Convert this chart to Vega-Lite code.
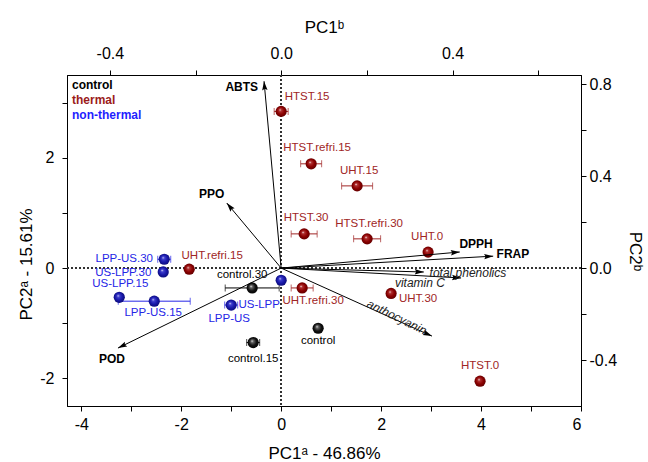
{
  "$schema": "https://vega.github.io/schema/vega-lite/v6.json",
  "width": 514,
  "height": 331,
  "autosize": "none",
  "padding": {"left": 67, "top": 75, "right": 67, "bottom": 56},
  "background": "white",
  "config": {
    "font": "Liberation Sans",
    "view": {"stroke": "black", "strokeWidth": 1},
    "axis": {"grid": false, "domainColor": "black", "tickColor": "black", "labelColor": "black", "titleColor": "black", "labelFontSize": 16, "titleFontSize": 17, "titleFontWeight": "normal", "tickSize": 5, "labelPadding": 3, "labelFont": "Liberation Sans", "titleFont": "Liberation Sans"}
  },
  "datasets": {
    "scores": [
      {"name": "HTST.15", "group": "thermal", "x": 0.0, "y": 2.84, "xerr": 0.14, "lx": 0.52, "ly": 3.11},
      {"name": "HTST.refri.15", "group": "thermal", "x": 0.60, "y": 1.89, "xerr": 0.21, "lx": 0.72, "ly": 2.18},
      {"name": "UHT.15", "group": "thermal", "x": 1.52, "y": 1.49, "xerr": 0.31, "lx": 1.56, "ly": 1.76},
      {"name": "HTST.30", "group": "thermal", "x": 0.46, "y": 0.62, "xerr": 0.26, "lx": 0.50, "ly": 0.91},
      {"name": "HTST.refri.30", "group": "thermal", "x": 1.72, "y": 0.53, "xerr": 0.27, "lx": 1.76, "ly": 0.80},
      {"name": "UHT.0", "group": "thermal", "x": 2.94, "y": 0.29, "xerr": 0, "lx": 2.92, "ly": 0.56},
      {"name": "UHT.refri.30", "group": "thermal", "x": 0.42, "y": -0.36, "xerr": 0.22, "lx": 0.64, "ly": -0.60},
      {"name": "UHT.30", "group": "thermal", "x": 2.20, "y": -0.46, "xerr": 0, "lx": 2.74, "ly": -0.56},
      {"name": "HTST.0", "group": "thermal", "x": 3.98, "y": -2.05, "xerr": 0, "lx": 3.98, "ly": -1.78},
      {"name": "UHT.refri.15", "group": "thermal", "x": -1.84, "y": -0.02, "xerr": 0, "lx": -1.38, "ly": 0.22},
      {"name": "control", "group": "control", "x": 0.74, "y": -1.09, "xerr": 0, "lx": 0.74, "ly": -1.33},
      {"name": "control.30", "group": "control", "x": -0.58, "y": -0.36, "xerr": 0.54, "lx": -0.78, "ly": -0.13},
      {"name": "control.15", "group": "control", "x": -0.56, "y": -1.35, "xerr": 0.13, "lx": -0.56, "ly": -1.64},
      {"name": "LPP-US.30", "group": "non-thermal", "x": -2.34, "y": 0.16, "xerr": 0.13, "lx": -3.14, "ly": 0.16},
      {"name": "US-LPP.30", "group": "non-thermal", "x": -2.36, "y": -0.07, "xerr": 0, "lx": -3.16, "ly": -0.09},
      {"name": "US-LPP.15", "group": "non-thermal", "x": -3.24, "y": -0.53, "xerr": 0, "lx": -3.22, "ly": -0.29},
      {"name": "LPP-US.15", "group": "non-thermal", "x": -2.54, "y": -0.60, "xerr": 0.72, "lx": -2.56, "ly": -0.82},
      {"name": "LPP-US", "group": "non-thermal", "x": -1.00, "y": -0.67, "xerr": 0.13, "lx": -1.04, "ly": -0.93},
      {"name": "US-LPP", "group": "non-thermal", "x": 0.0, "y": -0.22, "xerr": 0, "lx": -0.44, "ly": -0.67}
    ],
    "loadings": [
      {"var": "ABTS", "kind": "assay", "lx": -0.040, "ly": 0.813, "tx": -0.092, "ty": 0.787},
      {"var": "PPO", "kind": "assay", "lx": -0.127, "ly": 0.283, "tx": -0.162, "ty": 0.322},
      {"var": "POD", "kind": "assay", "lx": -0.381, "ly": -0.348, "tx": -0.395, "ty": -0.396},
      {"var": "DPPH", "kind": "assay", "lx": 0.417, "ly": 0.070, "tx": 0.455, "ty": 0.104},
      {"var": "FRAP", "kind": "assay", "lx": 0.495, "ly": 0.052, "tx": 0.541, "ty": 0.061},
      {"var": "total phenolics", "kind": "compound", "lx": 0.333, "ly": -0.017, "tx": 0.436, "ty": -0.022},
      {"var": "vitamin C", "kind": "compound", "lx": 0.420, "ly": -0.043, "tx": 0.324, "ty": -0.065},
      {"var": "anthocyanin", "kind": "compound", "lx": 0.352, "ly": -0.296, "tx": 0.270, "ty": -0.213}
    ]
  },
  "layer": [
    {
      "data": {"name": "scores"},
      "layer": [
        {
          "mark": {"type": "rule", "strokeDash": [2, 2], "color": "#333333", "strokeWidth": 1},
          "encoding": {
            "x": {"datum": 0, "type": "quantitative", "scale": {"domain": [-4.2857, 6], "nice": false, "zero": false},
              "axis": {"orient": "bottom", "values": [-4, -3, -2, -1, 0, 1, 2, 3, 4, 5, 6], "labelExpr": "datum.value % 2 == 0 ? replace(format(datum.value, 'd'), '\u2212', '-') : ''", "title": "PC1\u1d43 - 46.86%", "titlePadding": 13, "labelPadding": 5}}
          }
        },
        {
          "mark": {"type": "rule", "strokeDash": [2, 2], "color": "#333333", "strokeWidth": 1},
          "encoding": {
            "y": {"datum": 0, "type": "quantitative", "scale": {"domain": [-2.5, 3.5], "nice": false, "zero": false},
              "axis": {"orient": "left", "values": [-2, -1, 0, 1, 2, 3], "labelExpr": "datum.value % 2 == 0 ? replace(format(datum.value, 'd'), '\u2212', '-') : ''", "title": "PC2\u1d43 - 15.61%", "titlePadding": 4, "titleY": 189, "labelPadding": 8}}
          }
        },
        {
          "transform": [{"filter": "datum.xerr > 0"}],
          "mark": {"type": "errorbar", "ticks": {"size": 7}, "thickness": 1},
          "encoding": {
            "x": {"field": "x", "type": "quantitative", "title": "PC1\u1d43 - 46.86%"},
            "xError": {"field": "xerr"},
            "y": {"field": "y", "type": "quantitative", "title": "PC2\u1d43 - 15.61%"},
            "color": {"field": "group", "type": "nominal", "scale": {"domain": ["control", "thermal", "non-thermal"], "range": ["#000000", "#a02525", "#2525e6"]}}
          }
        },
        {
          "transform": [{"filter": "datum.group === 'control'"}],
          "mark": {"type": "point", "filled": true, "size": 125, "opacity": 1, "fill": {"gradient": "radial", "x1": 0.4, "y1": 0.35, "r1": 0, "x2": 0.5, "y2": 0.5, "r2": 0.55, "stops": [{"offset": 0, "color": "#ffffff"}, {"offset": 0.2, "color": "#666666"}, {"offset": 0.6, "color": "#111111"}, {"offset": 1, "color": "#000000"}]}},
          "encoding": {
            "x": {"field": "x", "type": "quantitative", "title": "PC1\u1d43 - 46.86%"},
            "y": {"field": "y", "type": "quantitative", "title": "PC2\u1d43 - 15.61%"}
          }
        },
        {
          "transform": [{"filter": "datum.group === 'thermal'"}],
          "mark": {"type": "point", "filled": true, "size": 125, "opacity": 1, "fill": {"gradient": "radial", "x1": 0.4, "y1": 0.35, "r1": 0, "x2": 0.5, "y2": 0.5, "r2": 0.55, "stops": [{"offset": 0, "color": "#ffffff"}, {"offset": 0.2, "color": "#b03030"}, {"offset": 0.6, "color": "#8b0000"}, {"offset": 1, "color": "#5a0000"}]}},
          "encoding": {
            "x": {"field": "x", "type": "quantitative", "title": "PC1\u1d43 - 46.86%"},
            "y": {"field": "y", "type": "quantitative", "title": "PC2\u1d43 - 15.61%"}
          }
        },
        {
          "transform": [{"filter": "datum.group === 'non-thermal'"}],
          "mark": {"type": "point", "filled": true, "size": 125, "opacity": 1, "fill": {"gradient": "radial", "x1": 0.4, "y1": 0.35, "r1": 0, "x2": 0.5, "y2": 0.5, "r2": 0.55, "stops": [{"offset": 0, "color": "#ffffff"}, {"offset": 0.2, "color": "#4040d0"}, {"offset": 0.6, "color": "#1818a8"}, {"offset": 1, "color": "#0a0a70"}]}},
          "encoding": {
            "x": {"field": "x", "type": "quantitative", "title": "PC1\u1d43 - 46.86%"},
            "y": {"field": "y", "type": "quantitative", "title": "PC2\u1d43 - 15.61%"}
          }
        },
        {
          "mark": {"type": "text", "fontSize": 11.5, "baseline": "middle", "align": "center"},
          "encoding": {
            "x": {"field": "lx", "type": "quantitative", "title": "PC1\u1d43 - 46.86%"},
            "y": {"field": "ly", "type": "quantitative", "title": "PC2\u1d43 - 15.61%"},
            "text": {"field": "name"},
            "color": {"field": "group", "type": "nominal", "scale": {"domain": ["control", "thermal", "non-thermal"], "range": ["#000000", "#a02525", "#2525e6"]},
              "legend": {"orient": "top-left", "title": null, "symbolSize": 0, "symbolOpacity": 0, "symbolStrokeWidth": 0, "labelOffset": -11, "offset": 4, "padding": 0, "labelFontSize": 12, "labelFontWeight": "bold", "rowPadding": 3, "labelLimit": 200, "labelFont": "Liberation Sans",
                "encode": {"labels": {"update": {"fill": {"signal": "datum.value === 'control' ? '#000000' : datum.value === 'thermal' ? '#9b1b1b' : '#1e1eff'"}}}}}}
          }
        }
      ]
    },
    {
      "data": {"name": "loadings"},
      "layer": [
        {
          "mark": {"type": "rule", "color": "black", "strokeWidth": 1},
          "encoding": {
            "x": {"field": "lx", "type": "quantitative", "scale": {"domain": [-0.5, 0.7], "nice": false, "zero": false},
              "axis": {"orient": "top", "values": [-0.4, -0.2, 0, 0.2, 0.4, 0.6], "labelExpr": "abs(round(datum.value*10)) % 4 == 0 ? replace(format(datum.value, '.1f'), '\u2212', '-') : ''", "title": "PC1\u1d47", "titlePadding": 9, "labelPadding": 9}},
            "x2": {"datum": 0},
            "y": {"field": "ly", "type": "quantitative", "scale": {"domain": [-0.6, 0.84], "nice": false, "zero": false},
              "axis": {"orient": "right", "values": [-0.4, -0.2, 0, 0.2, 0.4, 0.6, 0.8], "labelExpr": "abs(round(datum.value*10)) % 4 == 0 ? replace(format(datum.value, '.1f'), '\u2212', '-') : ''", "title": "PC2\u1d47", "titlePadding": 9, "titleAngle": 90, "titleY": 176, "labelPadding": 3}},
            "y2": {"datum": 0}
          }
        },
        {
          "mark": {"type": "point", "filled": true, "opacity": 1, "color": "black", "size": 324, "shape": "M0,0L-0.3,1L0,0.85L0.3,1Z", "angle": {"expr": "atan2(datum.lx*428.33, datum.ly*229.86)*180/PI"}},
          "encoding": {
            "x": {"field": "lx", "type": "quantitative", "title": "PC1\u1d47"},
            "y": {"field": "ly", "type": "quantitative", "title": "PC2\u1d47"}
          }
        },
        {
          "transform": [{"filter": "datum.kind === 'assay'"}],
          "mark": {"type": "text", "fontSize": 12, "fontWeight": "bold", "baseline": "middle", "align": "center", "color": "black"},
          "encoding": {
            "x": {"field": "tx", "type": "quantitative", "title": "PC1\u1d47"},
            "y": {"field": "ty", "type": "quantitative", "title": "PC2\u1d47"},
            "text": {"field": "var"}
          }
        },
        {
          "transform": [{"filter": "datum.kind === 'compound' && datum.var !== 'anthocyanin'"}],
          "mark": {"type": "text", "fontSize": 12, "fontStyle": "italic", "baseline": "middle", "align": "center", "color": "#222222"},
          "encoding": {
            "x": {"field": "tx", "type": "quantitative", "title": "PC1\u1d47"},
            "y": {"field": "ty", "type": "quantitative", "title": "PC2\u1d47"},
            "text": {"field": "var"}
          }
        },
        {
          "transform": [{"filter": "datum.var === 'anthocyanin'"}],
          "mark": {"type": "text", "fontSize": 12, "fontStyle": "italic", "baseline": "middle", "align": "center", "color": "#222222", "angle": 26},
          "encoding": {
            "x": {"field": "tx", "type": "quantitative", "title": "PC1\u1d47"},
            "y": {"field": "ty", "type": "quantitative", "title": "PC2\u1d47"},
            "text": {"field": "var"}
          }
        }
      ]
    }
  ],
  "resolve": {"scale": {"x": "independent", "y": "independent"}, "axis": {"x": "independent", "y": "independent"}}
}
